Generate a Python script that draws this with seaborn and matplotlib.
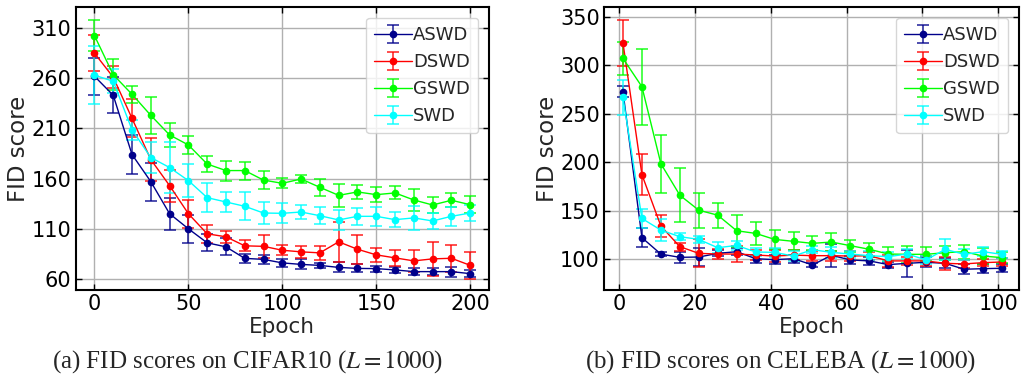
import matplotlib
matplotlib.use("Agg")
import matplotlib.pyplot as plt
import seaborn as sns
import numpy as np

# ---- CIFAR10 (left) ----
cifar_epoch = [0, 10, 20, 30, 40, 50, 60, 70, 80, 90, 100, 110, 120, 130, 140, 150, 160, 170, 180, 190, 200]
cifar_aswd = [262, 243, 184, 157, 125, 110, 96, 92, 80.5, 79.5, 76, 74.5, 73.5, 71.5, 70.5, 70.3, 69, 67.3, 67.3, 67.3, 65.3]
cifar_aswd_err = [18.5, 18, 19, 19, 16, 14, 8.5, 8.5, 4.6, 4.5, 4, 5, 2.7, 5, 4, 3, 2.7, 3.3, 3.3, 5, 3.3]
cifar_dswd = [285, 261, 220, 179, 153, 125, 105, 102, 93, 92.5, 88.6, 87, 86, 97, 89.6, 84, 81, 78, 80, 80.6, 73.6]
cifar_dswd_err = [18, 11, 19, 21, 16, 14, 9, 6, 5.5, 11.6, 5, 6.3, 7, 20, 14.6, 7, 8, 11, 17, 13.6, 13.3]
cifar_gswd = [302.5, 263.5, 244, 223, 203.5, 193.5, 174.5, 168, 168, 158.5, 155.3, 159.6, 151.3, 143.3, 146.7, 144, 145.7, 138.7, 133.7, 138.4, 134]
cifar_gswd_err = [15.8, 15.6, 8.6, 18.6, 12, 9, 7.8, 10, 9, 8.6, 4.8, 4, 8.6, 11.5, 6.8, 7.8, 6.5, 11, 7.8, 7, 8.3]
cifar_swd = [263, 257, 208.7, 181, 171, 158, 141, 136.7, 132.4, 125.7, 125.4, 126.7, 123, 118.8, 122.4, 122.4, 119.1, 120.8, 117.8, 122.4, 125.7]
cifar_swd_err = [29, 12, 10, 15.8, 25, 16.6, 14.3, 9.6, 14, 10.6, 10, 6.6, 8.3, 10, 8.3, 9.6, 7.3, 12, 8, 9.6, 8.3]

# ---- CELEBA (right) ----
celeba_epoch = [1, 6, 11, 16, 21, 26, 31, 36, 41, 46, 51, 56, 61, 66, 71, 76, 81, 86, 91, 96, 101]
celeba_aswd = [272.5, 122, 105, 101.7, 102, 105.8, 107.5, 100.3, 99.3, 100.3, 93.8, 103.8, 99, 98, 94.2, 95.5, 96.6, 95.5, 89.4, 90, 90.4]
celeba_aswd_err = [5.5, 10, 2, 6, 9, 3, 3.4, 4, 4.5, 4, 2.4, 12, 4.5, 4, 3, 14, 5, 5, 5, 4.5, 4]
celeba_dswd = [323, 187, 134, 112.7, 105.8, 105.1, 105.1, 104.1, 103, 104, 103.4, 103.4, 103, 103.4, 98, 98, 98, 95.5, 94.9, 96.2, 96.9]
celeba_dswd_err = [23.5, 21, 11, 4, 14.5, 5, 8.5, 5.5, 6, 5, 5, 5, 5.6, 4, 6, 4.3, 5, 7, 3.8, 3.4, 3.8]
celeba_gswd = [307, 277.7, 198.3, 165.8, 150.3, 145.2, 129.1, 126.4, 120.2, 118.2, 116.1, 117.5, 113.7, 110, 105.1, 104.8, 104.8, 106.5, 107.5, 103, 101.4]
celeba_gswd_err = [17, 39, 30, 28, 18, 13, 16.6, 11.6, 10, 9.4, 7.2, 9.4, 6, 6.8, 7.4, 8.6, 7.2, 7.2, 7.2, 8, 5.7]
celeba_swd = [266.8, 141.8, 129.8, 123, 120.2, 111.6, 114, 107.2, 106.8, 103, 109.6, 106.8, 105.1, 103.4, 102.4, 105.1, 99, 110, 104.8, 107.5, 104.8]
celeba_swd_err = [18, 10, 11, 3.4, 3.4, 5.5, 4.8, 4.5, 4.3, 5, 3.8, 5.5, 3.6, 4.6, 5, 5, 3.8, 11, 6, 4.8, 3.4]

methods = ["ASWD", "DSWD", "GSWD", "SWD"]
colors = ["#00008b", "#ff0000", "#00ff00", "#00ffff"]

sns.set_style("whitegrid", {"grid.color": "#b0b0b0", "axes.edgecolor": "black",
                            "xtick.direction": "in", "ytick.direction": "in",
                            "xtick.top": True, "ytick.right": True,
                            "xtick.bottom": True, "ytick.left": True})
plt.rcParams["font.family"] = ["DejaVu Sans"]
plt.rcParams["mathtext.fontset"] = "stix"

fig = plt.figure(figsize=(10.21, 3.77), dpi=100)
ax1 = fig.add_axes([0.0741, 0.2308, 0.4048, 0.7507])
ax2 = fig.add_axes([0.5916, 0.2308, 0.4065, 0.7507])

panels = [
    (ax1, cifar_epoch, [cifar_aswd, cifar_dswd, cifar_gswd, cifar_swd],
     [cifar_aswd_err, cifar_dswd_err, cifar_gswd_err, cifar_swd_err]),
    (ax2, celeba_epoch, [celeba_aswd, celeba_dswd, celeba_gswd, celeba_swd],
     [celeba_aswd_err, celeba_dswd_err, celeba_gswd_err, celeba_swd_err]),
]

for ax, ep, vals, errs in panels:
    for name, c, v, e in zip(methods, colors, vals, errs):
        eb = ax.errorbar(ep, v, yerr=e, color=c, marker="o", markersize=4.5, lw=1.0,
                         capsize=4, elinewidth=1.3, capthick=1.3, label=name)
        for part in eb[1] + eb[2]:
            part.set_alpha(0.75)
    ax.set_xlabel("Epoch", fontsize=15.5, labelpad=2)
    ax.set_ylabel("FID score", fontsize=16.5, labelpad=1)
    ax.tick_params(labelsize=15, length=4, width=1, pad=3, colors="black")
    ax.grid(True, lw=1.0)
    for s in ax.spines.values():
        s.set_linewidth(1.5)
    ax.legend(loc="upper right", fontsize=13, handlelength=2.1, handletextpad=0.05,
              labelspacing=0.5, borderpad=0.45, borderaxespad=0.6, frameon=True)

ax1.set_xlim(-10, 210)
ax1.set_ylim(49, 331)
ax1.set_xticks([0, 50, 100, 150, 200])
ax1.set_yticks([60, 110, 160, 210, 260, 310])

ax2.set_xlim(-4, 105.5)
ax2.set_ylim(68, 360)
ax2.set_xticks([0, 20, 40, 60, 80, 100])
ax2.set_yticks([100, 150, 200, 250, 300, 350])

fig.text(0.243, 0.024, r"(a) FID scores on CIFAR10 ($L = 1000$)", ha="center", va="baseline",
         fontsize=18, family="Liberation Serif")
fig.text(0.765, 0.024, r"(b) FID scores on CELEBA ($L = 1000$)", ha="center", va="baseline",
         fontsize=18, family="Liberation Serif")

fig.savefig("out.png", dpi=100)
